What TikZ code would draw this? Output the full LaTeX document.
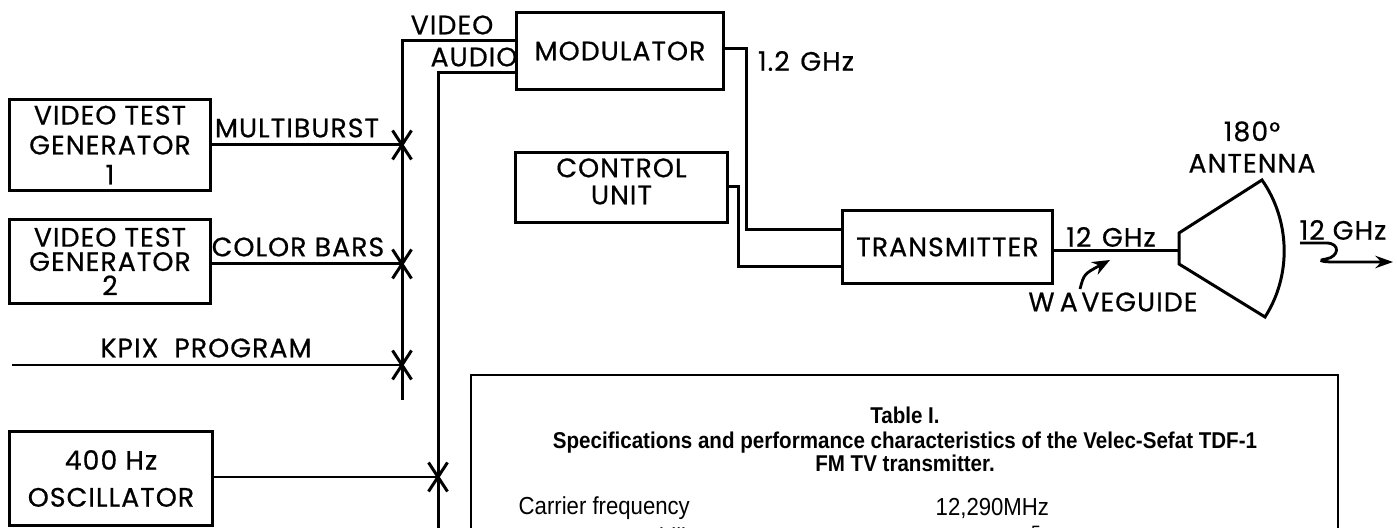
\documentclass[tikz,border=0pt]{standalone}
\usepackage{fontspec}
\setmainfont{Poppins}[LetterSpace=4,FakeBold=0.6]
\newfontfamily\tabfont{Liberation Sans}[FakeStretch=0.9]
\usetikzlibrary{arrows.meta}
\tikzset{
  blk/.style={draw, line width=0.85pt, inner sep=0pt, align=center},
  wire/.style={line width=0.85pt},
  lbl/.style={inner sep=0pt, align=center},
  thd/.style={inner sep=0pt, font=\tabfont\bfseries\fontsize{6.5}{7}\selectfont},
  tbody/.style={inner sep=0pt, anchor=west, font=\tabfont\fontsize{7}{8}\selectfont},
  xm/.pic={\draw[line width=0.85pt] (-9.5,-14.5) -- (9.5,14.5) (-9.5,14.5) -- (9.5,-14.5);}
}
\begin{document}
\begin{tikzpicture}[x=0.01cm,y=-0.01cm,font=\fontsize{7.6}{9}\selectfont]
\useasboundingbox (0,0) rectangle (1397,528);
\clip (0,0) rectangle (1397,528);
% boxes
\node[blk, minimum width=2cm, minimum height=0.9cm, font=\fontsize{7.6}{8.5}\selectfont] (vtg1) at (110,145) {VIDEO TEST\\GENERATOR\\1};
\node[blk, minimum width=2cm, minimum height=0.83cm, font=\fontsize{7.6}{6.9}\selectfont] (vtg2) at (110,261.5) {VIDEO TEST\\GENERATOR\\2};
\node[blk, minimum width=2.02cm, minimum height=0.93cm, font=\fontsize{7.6}{10.5}\selectfont] (osc) at (111,478.5) {400 Hz\\OSCILLATOR};
\node[blk, minimum width=2.06cm, minimum height=0.76cm] (mod) at (620,51) {MODULATOR};
\node[blk, minimum width=2.11cm, minimum height=0.69cm, text depth=3.5pt, font=\fontsize{7.6}{7.7}\selectfont] (ctrl) at (621.5,187.5) {CONTROL\\UNIT};
\node[blk, minimum width=2.09cm, minimum height=0.72cm] (tx) at (947.5,247) {TRANSMITTER};
% coordinates
\coordinate (j1) at (402,145);
\coordinate (j2) at (402,264);
\coordinate (j3) at (402,365);
\coordinate (j4) at (438,477);
\coordinate (vtop) at (402,41);
\coordinate (busend) at (402,400);
\coordinate (atop) at (438,73);
\coordinate (abot) at (438,540);
\coordinate (kstart) at (12,365);
\coordinate (m1) at (746,49);
\coordinate (m2) at (746,230);
\coordinate (c1) at (738,187);
\coordinate (c2) at (738,267);
\coordinate (antL) at (1179,251);
% wires
\draw[wire] (vtg1.east) -- (j1);
\draw[wire] (j2 -| vtg2.east) -- (j2);
\draw[wire] (kstart) -- (j3);
\draw[wire] (j4 -| osc.east) -- (j4);
\draw[wire] (busend) -- (vtop) -- (vtop -| mod.west);
\draw[wire] (abot) -- (atop) -- (atop -| mod.west);
\draw[wire] (m1 -| mod.east) -- (m1) -- (m2) -- (m2 -| tx.west);
\draw[wire] (c1 -| ctrl.east) -- (c1) -- (c2) -- (c2 -| tx.west);
\draw[wire] (antL -| tx.east) -- (antL);
% junction marks
\pic at (j1) {xm};
\pic at (j2) {xm};
\pic at (j3) {xm};
\pic at (j4) {xm};
% antenna
\draw[wire, line join=miter] (1179,233) -- (1262,180) .. controls (1290,220) and (1292,275) .. (1265,317) -- (1179,264) -- cycle;
% waveguide arrow
\coordinate (wgt) at (1080,289);
\coordinate (wgh) at (1110,260);
\draw[line width=0.8pt, -{Stealth[length=5pt,width=4pt]}] (wgt) .. controls (1084,274) .. (wgh);
% radiated signal arrow
\coordinate (rs) at (1300,243);
\coordinate (re) at (1393,262);
\draw[line width=0.8pt, -{Stealth[length=5pt,width=3.5pt]}] (rs) -- (1326,243) .. controls (1341,243) and (1339,257) .. (1326,259) .. controls (1318,260) and (1320,262) .. (1334,262) -- (re);
% labels
\node[lbl] (lmb) at (297,128) {MULTIBURST};
\node[lbl] (lcb) at (298,247) {COLOR BARS};
\node[lbl] (lkp) at (206,348) {KPIX\hspace{0.6em}PROGRAM};
\node[lbl] (lvi) at (452,25) {VIDEO};
\node[lbl] (lau) at (474,57) {AUDIO};
\node[lbl] (l12) at (806,61) {1.2\hspace{0.4em}GHz};
\node[lbl] (l12b) at (1111,237) {12\hspace{0.4em}GHz};
\node[lbl] (lwg) at (1113,302) {W\kern1.5pt A\kern1pt VEGUIDE};
\node[lbl] (lant) at (1252,147) {180°\\ANTENNA};
\node[lbl] (l12c) at (1343,230) {12\hspace{0.3em}GHz};
% table
\draw[line width=0.45pt] (471,545) -- (471,375) -- (1338,375) -- (1338,545);
\node[thd] (t1) at (905,415) {Table I.};
\node[thd] (t2) at (905,443) {Specifications and performance characteristics of the Velec-Sefat TDF-1};
\node[thd] (t3) at (905,463) {FM TV transmitter.};
\node[tbody] (t4) at (518,508) {Carrier frequency};
\node[tbody] (t5) at (935,508) {12,290MHz};
\node[tbody] (t6) at (518,539) {Frequency stability};
\node[tbody] (t7) at (958,539) {2 × 10\raisebox{0.9ex}{\fontsize{5.5}{6}\selectfont −5}};
\end{tikzpicture}
\end{document}
